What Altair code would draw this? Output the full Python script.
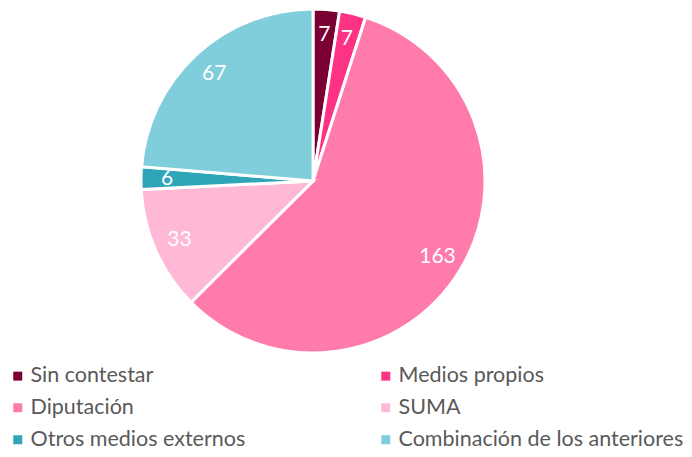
import altair as alt
import pandas as pd

categories = ["Sin contestar", "Medios propios", "Diputación", "SUMA",
              "Otros medios externos", "Combinación de los anteriores"]
values = [7, 7, 163, 33, 6, 67]
colors = ["#7A0034", "#FF3385", "#FF7BAC", "#FFB9D6", "#2EA6B8", "#80CDDB"]

df = pd.DataFrame({"categoria": categories, "valor": values,
                   "orden": list(range(len(categories)))})

base = alt.Chart(df).encode(
    theta=alt.Theta("valor:Q", stack=True),
    order=alt.Order("orden:Q"),
    x=alt.value(305),
    y=alt.value(173),
)

arcs = base.mark_arc(radius=172, stroke="white", strokeWidth=3).encode(
    color=alt.Color(
        "categoria:N",
        scale=alt.Scale(domain=categories, range=colors),
        legend=alt.Legend(
            title=None, orient="none", legendX=-1, legendY=357,
            columns=2, direction="horizontal", columnPadding=129, rowPadding=9,
            symbolType="square", symbolSize=81, symbolStrokeWidth=0,
            labelFont="Lato", labelFontSize=21.5, labelColor="#595959",
            labelOffset=2, labelLimit=400, padding=0,
        ),
    )
)

labels = base.mark_text(radius=146, font="Lato", fontSize=21,
                        color="white").encode(text="valor:Q")

chart = (arcs + labels).properties(
    width=676, height=441, padding=0,
    autosize=alt.AutoSizeParams(type="none"),
).configure_view(stroke=None)

chart.save("out.html", embed_options={"renderer": "svg", "actions": False})
